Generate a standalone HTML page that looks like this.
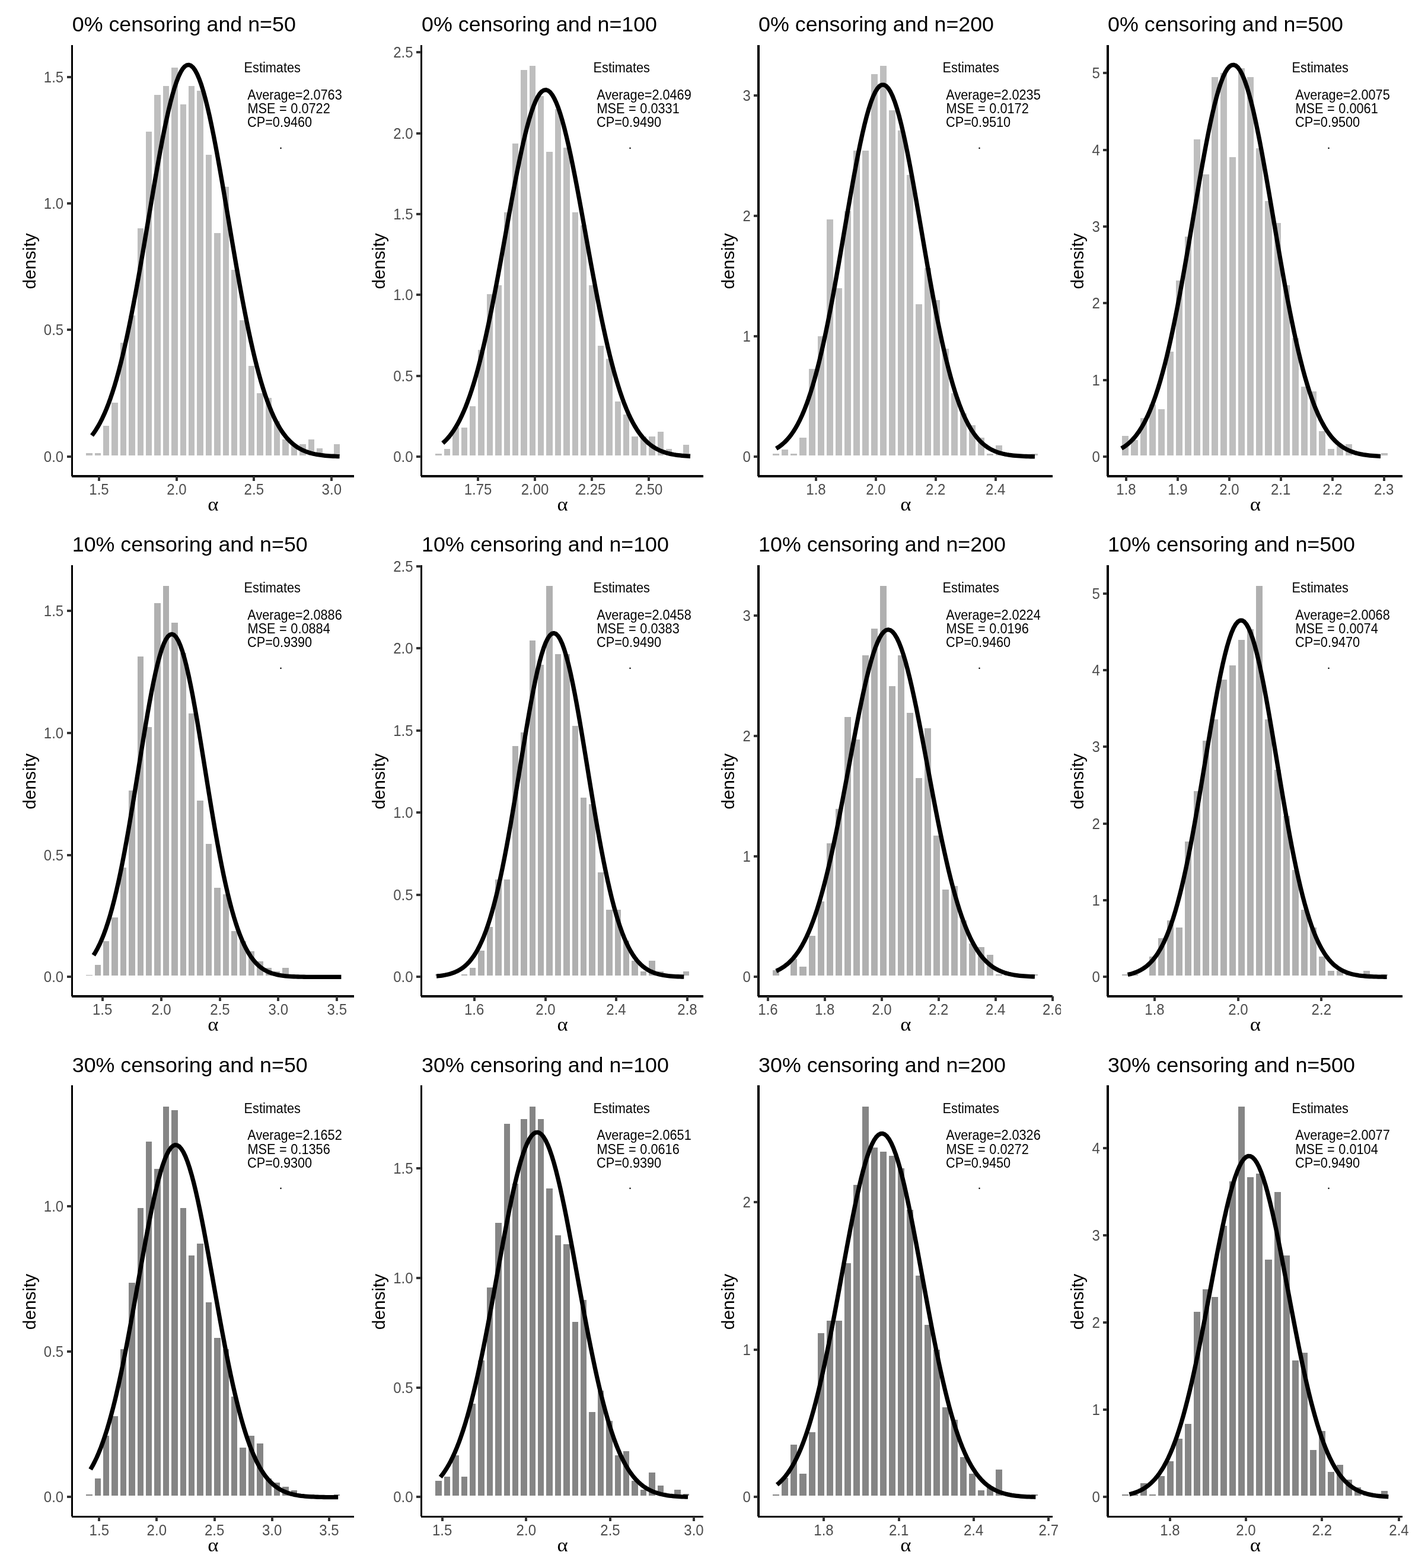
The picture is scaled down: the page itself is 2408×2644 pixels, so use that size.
<!DOCTYPE html>
<html lang="en"><head><meta charset="utf-8"><title>Histograms of estimates</title>
<style>html,body{margin:0;padding:0;background:#fff}svg{display:block}text{font-family:"Liberation Sans",Arial,Helvetica,sans-serif}.t{font-size:35.8px;fill:#000}.k{font-size:24.0px;fill:#4D4D4D}.a{font-size:29.8px;fill:#000}.n,.m{font-size:21.7px;fill:#000}.m{word-spacing:0.6px}.g{font-family:"Liberation Serif","DejaVu Serif",serif;font-size:31.5px;fill:#000}</style></head><body>
<svg width="2408" height="2644" viewBox="0 0 2408 2644">
<rect width="2408" height="2644" fill="#fff"/>
<g>
<text class="t" transform="translate(121.8 52.9) scale(1.0 0.977)">0% censoring and n=50</text>
<path fill="#BEBEBE" shape-rendering="crispEdges" d="M145 764H156V768H145ZM160 764H170V768H160ZM174 718H184V768H174ZM188 679H199V768H188ZM203 578H213V768H203ZM217 532H228V768H217ZM232 385H242V768H232ZM246 222H256V768H246ZM260 160H271V768H260ZM275 145H285V768H275ZM289 114H300V768H289ZM304 176H314V768H304ZM318 145H328V768H318ZM332 153H343V768H332ZM347 261H357V768H347ZM361 393H372V768H361ZM376 315H386V768H376ZM390 455H400V768H390ZM404 540H415V768H404ZM419 617H429V768H419ZM433 663H444V768H433ZM448 671H458V768H448ZM462 710H472V768H462ZM476 741H487V768H476ZM491 749H501V768H491ZM505 749H516V768H505ZM520 741H530V768H520ZM534 756H544V768H534ZM563 749H573V768H563Z"/>
<polyline fill="none" stroke="#000" stroke-width="7.3" stroke-linejoin="round" points="155,734.37 158.48,729.67 161.96,724.48 165.44,718.75 168.92,712.46 172.4,705.58 175.88,698.06 179.36,689.89 182.84,681.03 186.32,671.45 189.8,661.14 193.28,650.06 196.76,638.22 200.24,625.59 203.72,612.18 207.2,597.99 210.68,583.01 214.16,567.28 217.64,550.81 221.12,533.64 224.6,515.8 228.08,497.34 231.56,478.33 235.04,458.82 238.52,438.89 242,418.63 245.48,398.12 248.96,377.46 252.44,356.76 255.92,336.13 259.4,315.69 262.88,295.55 266.36,275.83 269.84,256.67 273.32,238.19 276.8,220.51 280.28,203.76 283.76,188.05 287.24,173.5 290.72,160.21 294.2,148.29 297.68,137.83 301.16,128.91 304.64,121.59 308.12,115.93 311.6,111.99 315.08,109.78 318.56,109.33 322.04,110.65 325.52,113.72 329,118.51 332.48,124.99 335.96,133.11 339.44,142.8 342.92,153.99 346.4,166.6 349.88,180.52 353.36,195.65 356.84,211.89 360.32,229.11 363.8,247.2 367.28,266.04 370.76,285.49 374.24,305.43 377.72,325.73 381.2,346.29 384.68,366.96 388.16,387.66 391.64,408.25 395.12,428.65 398.6,448.76 402.08,468.49 405.56,487.77 409.04,506.51 412.52,524.67 416,542.19 419.48,559.02 422.96,575.13 426.44,590.49 429.92,605.08 433.4,618.89 436.88,631.92 440.36,644.15 443.84,655.62 447.32,666.31 450.8,676.26 454.28,685.48 457.76,694 461.24,701.85 464.72,709.05 468.2,715.64 471.68,721.64 475.16,727.1 478.64,732.05 482.12,736.52 485.6,740.54 489.08,744.15 492.56,747.39 496.04,750.27 499.52,752.83 503,755.11 506.48,757.12 509.96,758.89 513.44,760.45 516.92,761.81 520.4,763 523.88,764.04 527.36,764.94 530.84,765.72 534.32,766.4 537.8,766.98 541.28,767.48 544.76,767.9 548.24,768.26 551.72,768.57 555.2,768.84 558.68,769.06 562.16,769.24 565.64,769.4 569.12,769.53 572.6,769.64"/>
<path fill="#000" shape-rendering="crispEdges" d="M120 76H123V803H120ZM121 801H597V805H121Z"/>
<path fill="#333" shape-rendering="crispEdges" d="M165 803h4v8h-4zM296 803h4v8h-4zM426 803h4v8h-4zM557 803h4v8h-4zM113 768H121v4H113zM113 554H121v4H113zM113 341H121v4H113zM113 128H121v4H113z"/>
<clipPath id="c0"><rect x="61.5" y="802.9" width="549.5" height="60"/></clipPath><g clip-path="url(#c0)">
<text class="k" text-anchor="middle" transform="translate(167 833.9) scale(1.0 1.08)">1.5</text>
<text class="k" text-anchor="middle" transform="translate(298 833.9) scale(1.0 1.08)">2.0</text>
<text class="k" text-anchor="middle" transform="translate(428.3 833.9) scale(1.0 1.08)">2.5</text>
<text class="k" text-anchor="middle" transform="translate(559.3 833.9) scale(1.0 1.08)">3.0</text>
</g>
<text class="k" text-anchor="end" transform="translate(107.2 778.86) scale(1.0 1.08)">0.0</text>
<text class="k" text-anchor="end" transform="translate(107.2 565.46) scale(1.0 1.08)">0.5</text>
<text class="k" text-anchor="end" transform="translate(107.2 352.06) scale(1.0 1.08)">1.0</text>
<text class="k" text-anchor="end" transform="translate(107.2 138.66) scale(1.0 1.08)">1.5</text>
<text class="g" text-anchor="middle" transform="translate(359.4 860.9) scale(1.1 1.0)">α</text>
<text class="a" text-anchor="middle" transform="translate(59.9 440.35) rotate(-90)">density</text>
<text class="n" transform="translate(411.6 122) scale(1.0 1.07)">Estimates</text>
<text class="n" transform="translate(417.3 167.7) scale(1.0 1.07)">Average=2.0763</text>
<text class="m" transform="translate(417.4 191) scale(1.0 1.07)">MSE = 0.0722</text>
<text class="n" transform="translate(417 214) scale(1.0 1.07)">CP=0.9460</text>
<text class="n" transform="translate(470.5 250.6)">.</text>
</g>
<g>
<text class="t" transform="translate(711.1 52.9) scale(1.0 0.977)">0% censoring and n=100</text>
<path fill="#BEBEBE" shape-rendering="crispEdges" d="M734 765H745V768H734ZM749 757H759V768H749ZM763 721H774V768H763ZM778 721H788V768H778ZM792 685H802V768H792ZM806 590H817V768H806ZM821 496H831V768H821ZM835 481H846V768H835ZM850 358H860V768H850ZM864 242H874V768H864ZM878 118H889V768H878ZM893 111H903V768H893ZM907 162H917V768H907ZM921 256H932V768H921ZM936 184H946V768H936ZM950 249H961V768H950ZM965 358H975V768H965ZM979 380H989V768H979ZM993 481H1004V768H993ZM1008 583H1018V768H1008ZM1022 605H1033V768H1022ZM1037 677H1047V768H1037ZM1051 699H1061V768H1051ZM1065 736H1076V768H1065ZM1080 736H1090V768H1080ZM1094 736H1105V768H1094ZM1109 728H1119V768H1109ZM1123 757H1133V768H1123ZM1152 750H1162V768H1152Z"/>
<polyline fill="none" stroke="#000" stroke-width="7.3" stroke-linejoin="round" points="746.7,747.25 750.18,744.04 753.66,740.47 757.13,736.49 760.61,732.09 764.09,727.22 767.57,721.86 771.04,715.97 774.52,709.52 778,702.49 781.48,694.85 784.96,686.56 788.43,677.6 791.91,667.96 795.39,657.61 798.87,646.55 802.34,634.75 805.82,622.22 809.3,608.97 812.78,594.99 816.26,580.3 819.73,564.92 823.21,548.89 826.69,532.24 830.17,515.02 833.65,497.27 837.12,479.06 840.6,460.46 844.08,441.55 847.56,422.4 851.03,403.11 854.51,383.79 857.99,364.52 861.47,345.42 864.95,326.6 868.42,308.17 871.9,290.26 875.38,272.97 878.86,256.42 882.33,240.73 885.81,226.01 889.29,212.36 892.77,199.88 896.25,188.67 899.72,178.81 903.2,170.38 906.68,163.44 910.16,158.05 913.63,154.25 917.11,152.07 920.59,151.52 924.07,152.61 927.55,155.34 931.02,159.68 934.5,165.59 937.98,173.03 941.46,181.95 944.93,192.27 948.41,203.91 951.89,216.79 955.37,230.81 958.85,245.87 962.32,261.85 965.8,278.66 969.28,296.17 972.76,314.27 976.24,332.84 979.71,351.77 983.19,370.94 986.67,390.24 990.15,409.56 993.62,428.81 997.1,447.89 1000.58,466.71 1004.06,485.19 1007.54,503.25 1011.01,520.83 1014.49,537.87 1017.97,554.32 1021.45,570.13 1024.92,585.28 1028.4,599.73 1031.88,613.47 1035.36,626.49 1038.84,638.77 1042.31,650.32 1045.79,661.15 1049.27,671.26 1052.75,680.67 1056.22,689.4 1059.7,697.47 1063.18,704.91 1066.66,711.74 1070.14,718 1073.61,723.7 1077.09,728.9 1080.57,733.61 1084.05,737.87 1087.52,741.71 1091,745.15 1094.48,748.24 1097.96,751 1101.44,753.46 1104.91,755.64 1108.39,757.56 1111.87,759.27 1115.35,760.76 1118.82,762.07 1122.3,763.22 1125.78,764.22 1129.26,765.09 1132.74,765.85 1136.21,766.5 1139.69,767.06 1143.17,767.54 1146.65,767.95 1150.13,768.31 1153.6,768.61 1157.08,768.86 1160.56,769.08 1164.04,769.26"/>
<path fill="#000" shape-rendering="crispEdges" d="M709 76H712V803H709ZM710 801H1186V805H710Z"/>
<path fill="#333" shape-rendering="crispEdges" d="M804 803h4v8h-4zM900 803h4v8h-4zM996 803h4v8h-4zM1092 803h4v8h-4zM702 768H710v4H702zM702 632H710v4H702zM702 495H710v4H702zM702 359H710v4H702zM702 223H710v4H702zM702 86H710v4H702z"/>
<clipPath id="c1"><rect x="650.8" y="802.9" width="549.2" height="60"/></clipPath><g clip-path="url(#c1)">
<text class="k" text-anchor="middle" transform="translate(806 833.9) scale(1.0 1.08)">1.75</text>
<text class="k" text-anchor="middle" transform="translate(902 833.9) scale(1.0 1.08)">2.00</text>
<text class="k" text-anchor="middle" transform="translate(998 833.9) scale(1.0 1.08)">2.25</text>
<text class="k" text-anchor="middle" transform="translate(1094 833.9) scale(1.0 1.08)">2.50</text>
</g>
<text class="k" text-anchor="end" transform="translate(696.5 778.86) scale(1.0 1.08)">0.0</text>
<text class="k" text-anchor="end" transform="translate(696.5 642.56) scale(1.0 1.08)">0.5</text>
<text class="k" text-anchor="end" transform="translate(696.5 506.26) scale(1.0 1.08)">1.0</text>
<text class="k" text-anchor="end" transform="translate(696.5 369.96) scale(1.0 1.08)">1.5</text>
<text class="k" text-anchor="end" transform="translate(696.5 233.66) scale(1.0 1.08)">2.0</text>
<text class="k" text-anchor="end" transform="translate(696.5 97.36) scale(1.0 1.08)">2.5</text>
<text class="g" text-anchor="middle" transform="translate(948.55 860.9) scale(1.1 1.0)">α</text>
<text class="a" text-anchor="middle" transform="translate(648.9 440.35) rotate(-90)">density</text>
<text class="n" transform="translate(1000.6 122) scale(1.0 1.07)">Estimates</text>
<text class="n" transform="translate(1006.3 167.7) scale(1.0 1.07)">Average=2.0469</text>
<text class="m" transform="translate(1006.4 191) scale(1.0 1.07)">MSE = 0.0331</text>
<text class="n" transform="translate(1006 214) scale(1.0 1.07)">CP=0.9490</text>
<text class="n" transform="translate(1059.5 250.6)">.</text>
</g>
<g>
<text class="t" transform="translate(1279.1 52.9) scale(1.0 0.977)">0% censoring and n=200</text>
<path fill="#BEBEBE" shape-rendering="crispEdges" d="M1303 765H1314V768H1303ZM1318 758H1329V768H1318ZM1333 765H1344V768H1333ZM1348 738H1360V768H1348ZM1364 622H1375V768H1364ZM1379 567H1390V768H1379ZM1394 370H1405V768H1394ZM1409 486H1420V768H1409ZM1424 356H1435V768H1424ZM1439 254H1450V768H1439ZM1454 254H1465V768H1454ZM1469 125H1480V768H1469ZM1484 111H1495V768H1484ZM1499 186H1510V768H1499ZM1514 220H1525V768H1514ZM1529 295H1540V768H1529ZM1544 513H1555V768H1544ZM1559 452H1570V768H1559ZM1574 506H1585V768H1574ZM1589 588H1600V768H1589ZM1604 663H1615V768H1604ZM1619 697H1630V768H1619ZM1634 717H1645V768H1634ZM1649 738H1660V768H1649ZM1664 765H1675V768H1664ZM1679 751H1690V768H1679ZM1739 765H1750V768H1739Z"/>
<polyline fill="none" stroke="#000" stroke-width="7.3" stroke-linejoin="round" points="1308.9,756.44 1312.53,754.18 1316.17,751.59 1319.8,748.66 1323.44,745.35 1327.07,741.61 1330.7,737.41 1334.34,732.71 1337.97,727.47 1341.6,721.64 1345.24,715.19 1348.87,708.08 1352.51,700.27 1356.14,691.72 1359.77,682.4 1363.41,672.27 1367.04,661.32 1370.67,649.52 1374.31,636.85 1377.94,623.32 1381.58,608.91 1385.21,593.64 1388.84,577.53 1392.48,560.6 1396.11,542.89 1399.74,524.45 1403.38,505.34 1407.01,485.63 1410.65,465.41 1414.28,444.77 1417.91,423.81 1421.55,402.65 1425.18,381.41 1428.82,360.23 1432.45,339.23 1436.08,318.57 1439.72,298.39 1443.35,278.84 1446.98,260.08 1450.62,242.25 1454.25,225.49 1457.89,209.95 1461.52,195.77 1465.15,183.05 1468.79,171.93 1472.42,162.49 1476.05,154.82 1479.69,148.99 1483.32,145.06 1486.96,143.07 1490.59,143.03 1494.22,144.93 1497.86,148.78 1501.49,154.52 1505.12,162.11 1508.76,171.47 1512.39,182.52 1516.03,195.17 1519.66,209.29 1523.29,224.77 1526.93,241.48 1530.56,259.26 1534.19,277.99 1537.83,297.5 1541.46,317.66 1545.1,338.3 1548.73,359.29 1552.36,380.47 1556,401.71 1559.63,422.87 1563.27,443.84 1566.9,464.5 1570.53,484.74 1574.17,504.47 1577.8,523.61 1581.43,542.08 1585.07,559.82 1588.7,576.79 1592.34,592.94 1595.97,608.25 1599.6,622.7 1603.24,636.27 1606.87,648.97 1610.5,660.81 1614.14,671.8 1617.77,681.97 1621.41,691.32 1625.04,699.91 1628.67,707.75 1632.31,714.89 1635.94,721.37 1639.57,727.22 1643.21,732.49 1646.84,737.21 1650.48,741.43 1654.11,745.19 1657.74,748.52 1661.38,751.47 1665.01,754.07 1668.64,756.35 1672.28,758.34 1675.91,760.08 1679.55,761.58 1683.18,762.89 1686.81,764.02 1690.45,764.98 1694.08,765.81 1697.72,766.52 1701.35,767.12 1704.98,767.63 1708.62,768.06 1712.25,768.43 1715.88,768.73 1719.52,768.98 1723.15,769.2 1726.79,769.37 1730.42,769.52 1734.05,769.64 1737.69,769.74 1741.32,769.82 1744.95,769.89"/>
<path fill="#000" shape-rendering="crispEdges" d="M1277 76H1281V803H1277ZM1278 801H1775V805H1278Z"/>
<path fill="#333" shape-rendering="crispEdges" d="M1374 803h4v8h-4zM1475 803h4v8h-4zM1576 803h4v8h-4zM1677 803h4v8h-4zM1271 768H1278v4H1271zM1271 565H1278v4H1271zM1271 362H1278v4H1271zM1271 159H1278v4H1271z"/>
<clipPath id="c2"><rect x="1218.8" y="802.9" width="570.2" height="60"/></clipPath><g clip-path="url(#c2)">
<text class="k" text-anchor="middle" transform="translate(1376 833.9) scale(1.0 1.08)">1.8</text>
<text class="k" text-anchor="middle" transform="translate(1477 833.9) scale(1.0 1.08)">2.0</text>
<text class="k" text-anchor="middle" transform="translate(1577.7 833.9) scale(1.0 1.08)">2.2</text>
<text class="k" text-anchor="middle" transform="translate(1678.7 833.9) scale(1.0 1.08)">2.4</text>
</g>
<text class="k" text-anchor="end" transform="translate(1265.8 778.86) scale(1.0 1.08)">0</text>
<text class="k" text-anchor="end" transform="translate(1265.8 575.96) scale(1.0 1.08)">1</text>
<text class="k" text-anchor="end" transform="translate(1265.8 373.06) scale(1.0 1.08)">2</text>
<text class="k" text-anchor="end" transform="translate(1265.8 170.16) scale(1.0 1.08)">3</text>
<text class="g" text-anchor="middle" transform="translate(1527.2 860.9) scale(1.1 1.0)">α</text>
<text class="a" text-anchor="middle" transform="translate(1237.9 440.35) rotate(-90)">density</text>
<text class="n" transform="translate(1589.6 122) scale(1.0 1.07)">Estimates</text>
<text class="n" transform="translate(1595.3 167.7) scale(1.0 1.07)">Average=2.0235</text>
<text class="m" transform="translate(1595.4 191) scale(1.0 1.07)">MSE = 0.0172</text>
<text class="n" transform="translate(1595 214) scale(1.0 1.07)">CP=0.9510</text>
<text class="n" transform="translate(1648.5 250.6)">.</text>
</g>
<g>
<text class="t" transform="translate(1868.1 52.9) scale(1.0 0.977)">0% censoring and n=500</text>
<path fill="#BEBEBE" shape-rendering="crispEdges" d="M1892 735H1903V768H1892ZM1907 742H1919V768H1907ZM1923 705H1934V768H1923ZM1938 682H1949V768H1938ZM1953 690H1964V768H1953ZM1968 593H1979V768H1968ZM1983 473H1994V768H1983ZM1998 399H2009V768H1998ZM2013 235H2024V768H2013ZM2028 294H2039V768H2028ZM2043 130H2054V768H2043ZM2058 123H2069V768H2058ZM2073 265H2084V768H2073ZM2088 115H2099V768H2088ZM2103 130H2114V768H2103ZM2118 250H2129V768H2118ZM2133 339H2145V768H2133ZM2149 376H2160V768H2149ZM2164 481H2175V768H2164ZM2179 570H2190V768H2179ZM2194 652H2205V768H2194ZM2209 660H2220V768H2209ZM2224 727H2235V768H2224ZM2239 757H2250V768H2239ZM2254 749H2265V768H2254ZM2269 749H2280V768H2269ZM2284 764H2295V768H2284ZM2329 764H2340V768H2329Z"/>
<polyline fill="none" stroke="#000" stroke-width="7.3" stroke-linejoin="round" points="1891.1,756.18 1894.74,753.96 1898.38,751.43 1902.02,748.58 1905.66,745.36 1909.31,741.75 1912.95,737.7 1916.59,733.18 1920.23,728.16 1923.87,722.59 1927.51,716.43 1931.15,709.66 1934.79,702.22 1938.43,694.09 1942.08,685.23 1945.72,675.62 1949.36,665.21 1953,654 1956.64,641.96 1960.28,629.08 1963.92,615.35 1967.56,600.77 1971.2,585.35 1974.85,569.11 1978.49,552.07 1982.13,534.27 1985.77,515.74 1989.41,496.55 1993.05,476.77 1996.69,456.45 2000.33,435.69 2003.97,414.59 2007.62,393.23 2011.26,371.75 2014.9,350.25 2018.54,328.87 2022.18,307.73 2025.82,286.97 2029.46,266.73 2033.1,247.15 2036.74,228.37 2040.39,210.54 2044.03,193.77 2047.67,178.22 2051.31,163.99 2054.95,151.2 2058.59,139.96 2062.23,130.37 2065.87,122.49 2069.51,116.41 2073.16,112.16 2076.8,109.79 2080.44,109.32 2084.08,110.75 2087.72,114.07 2091.36,119.25 2095,126.24 2098.64,135 2102.28,145.43 2105.93,157.46 2109.57,170.99 2113.21,185.9 2116.85,202.08 2120.49,219.41 2124.13,237.73 2127.77,256.93 2131.41,276.86 2135.05,297.38 2138.7,318.35 2142.34,339.63 2145.98,361.09 2149.62,382.59 2153.26,404.02 2156.9,425.27 2160.54,446.21 2164.18,466.75 2167.82,486.81 2171.47,506.31 2175.11,525.17 2178.75,543.34 2182.39,560.76 2186.03,577.4 2189.67,593.23 2193.31,608.22 2196.95,622.38 2200.59,635.68 2204.24,648.13 2207.88,659.76 2211.52,670.56 2215.16,680.56 2218.8,689.79 2222.44,698.28 2226.08,706.05 2229.72,713.15 2233.36,719.61 2237.01,725.47 2240.65,730.76 2244.29,735.52 2247.93,739.8 2251.57,743.62 2255.21,747.03 2258.85,750.06 2262.49,752.74 2266.13,755.11 2269.78,757.2 2273.42,759.02 2277.06,760.62 2280.7,762.01 2284.34,763.22 2287.98,764.27 2291.62,765.17 2295.26,765.95 2298.9,766.61 2302.55,767.18 2306.19,767.67 2309.83,768.08 2313.47,768.43 2317.11,768.72 2320.75,768.97 2324.39,769.18 2328.03,769.35"/>
<path fill="#000" shape-rendering="crispEdges" d="M1866 76H1870V803H1866ZM1867 801H2365V805H1867Z"/>
<path fill="#333" shape-rendering="crispEdges" d="M1897 803h4v8h-4zM1984 803h4v8h-4zM2071 803h4v8h-4zM2158 803h4v8h-4zM2245 803h4v8h-4zM2332 803h4v8h-4zM1860 768H1867v4H1860zM1860 639H1867v4H1860zM1860 509H1867v4H1860zM1860 380H1867v4H1860zM1860 251H1867v4H1860zM1860 121H1867v4H1860z"/>
<clipPath id="c3"><rect x="1807.8" y="802.9" width="571.2" height="60"/></clipPath><g clip-path="url(#c3)">
<text class="k" text-anchor="middle" transform="translate(1899 833.9) scale(1.0 1.08)">1.8</text>
<text class="k" text-anchor="middle" transform="translate(1986 833.9) scale(1.0 1.08)">1.9</text>
<text class="k" text-anchor="middle" transform="translate(2073 833.9) scale(1.0 1.08)">2.0</text>
<text class="k" text-anchor="middle" transform="translate(2159.7 833.9) scale(1.0 1.08)">2.1</text>
<text class="k" text-anchor="middle" transform="translate(2247 833.9) scale(1.0 1.08)">2.2</text>
<text class="k" text-anchor="middle" transform="translate(2333.7 833.9) scale(1.0 1.08)">2.3</text>
</g>
<text class="k" text-anchor="end" transform="translate(1854.8 778.86) scale(1.0 1.08)">0</text>
<text class="k" text-anchor="end" transform="translate(1854.8 649.56) scale(1.0 1.08)">1</text>
<text class="k" text-anchor="end" transform="translate(1854.8 520.26) scale(1.0 1.08)">2</text>
<text class="k" text-anchor="end" transform="translate(1854.8 390.96) scale(1.0 1.08)">3</text>
<text class="k" text-anchor="end" transform="translate(1854.8 261.66) scale(1.0 1.08)">4</text>
<text class="k" text-anchor="end" transform="translate(1854.8 132.36) scale(1.0 1.08)">5</text>
<text class="g" text-anchor="middle" transform="translate(2116.7 860.9) scale(1.1 1.0)">α</text>
<text class="a" text-anchor="middle" transform="translate(1826.9 440.35) rotate(-90)">density</text>
<text class="n" transform="translate(2178.6 122) scale(1.0 1.07)">Estimates</text>
<text class="n" transform="translate(2184.3 167.7) scale(1.0 1.07)">Average=2.0075</text>
<text class="m" transform="translate(2184.4 191) scale(1.0 1.07)">MSE = 0.0061</text>
<text class="n" transform="translate(2184 214) scale(1.0 1.07)">CP=0.9500</text>
<text class="n" transform="translate(2237.5 250.6)">.</text>
</g>
<g>
<text class="t" transform="translate(121.8 930.2) scale(1.0 0.977)">10% censoring and n=50</text>
<path fill="#B0B0B0" shape-rendering="crispEdges" d="M145 1644H156V1645H145ZM160 1627H170V1645H160ZM174 1587H184V1645H174ZM188 1547H199V1645H188ZM203 1463H213V1645H203ZM217 1333H228V1645H217ZM232 1107H242V1645H232ZM246 1226H256V1645H246ZM260 1017H271V1645H260ZM275 988H285V1645H275ZM289 1050H300V1645H289ZM304 1101H314V1645H304ZM318 1203H328V1645H318ZM332 1350H343V1645H332ZM347 1423H357V1645H347ZM361 1497H372V1645H361ZM376 1508H386V1645H376ZM390 1570H400V1645H390ZM404 1587H415V1645H404ZM419 1604H429V1645H419ZM433 1621H444V1645H433ZM448 1632H458V1645H448ZM462 1638H472V1645H462ZM476 1632H487V1645H476ZM505 1644H516V1645H505ZM534 1644H544V1645H534ZM548 1644H559V1645H548ZM563 1644H573V1645H563Z"/>
<polyline fill="none" stroke="#000" stroke-width="7.3" stroke-linejoin="round" points="157.8,1610.76 161.28,1605.09 164.76,1598.73 168.24,1591.64 171.72,1583.75 175.2,1575.03 178.68,1565.44 182.16,1554.93 185.64,1543.47 189.12,1531.04 192.6,1517.62 196.08,1503.22 199.56,1487.83 203.04,1471.47 206.52,1454.19 210,1436.02 213.48,1417.03 216.96,1397.3 220.44,1376.92 223.92,1356 227.4,1334.67 230.88,1313.07 234.36,1291.34 237.84,1269.66 241.32,1248.2 244.8,1227.13 248.28,1206.65 251.76,1186.94 255.24,1168.2 258.72,1150.61 262.2,1134.35 265.68,1119.59 269.16,1106.48 272.64,1095.18 276.12,1085.8 279.6,1078.46 283.08,1073.23 286.56,1070.18 290.04,1069.33 293.52,1070.71 297,1074.28 300.48,1080.02 303.96,1087.86 307.44,1097.71 310.92,1109.45 314.4,1122.96 317.88,1138.1 321.36,1154.69 324.84,1172.57 328.32,1191.56 331.8,1211.47 335.28,1232.11 338.76,1253.28 342.24,1274.82 345.72,1296.53 349.2,1318.24 352.68,1339.79 356.16,1361.03 359.64,1381.83 363.12,1402.07 366.6,1421.63 370.08,1440.43 373.56,1458.39 377.04,1475.46 380.52,1491.59 384,1506.74 387.48,1520.91 390.96,1534.09 394.44,1546.29 397.92,1557.52 401.4,1567.81 404.88,1577.19 408.36,1585.71 411.84,1593.4 415.32,1600.31 418.8,1606.5 422.28,1612.02 425.76,1616.9 429.24,1621.22 432.72,1625.01 436.2,1628.33 439.68,1631.22 443.16,1633.73 446.64,1635.89 450.12,1637.75 453.6,1639.34 457.08,1640.7 460.56,1641.85 464.04,1642.82 467.52,1643.64 471,1644.33 474.48,1644.9 477.96,1645.38 481.44,1645.77 484.92,1646.1 488.4,1646.36 491.88,1646.58 495.36,1646.76 498.84,1646.9 502.32,1647.02 505.8,1647.11 509.28,1647.19 512.76,1647.24 516.24,1647.29 519.72,1647.33 523.2,1647.36 526.68,1647.38 530.16,1647.4 533.64,1647.41 537.12,1647.42 540.6,1647.43 544.08,1647.44 547.56,1647.44 551.04,1647.45 554.52,1647.45 558,1647.45 561.48,1647.45 564.96,1647.46 568.44,1647.46 571.92,1647.46 575.4,1647.46"/>
<path fill="#000" shape-rendering="crispEdges" d="M120 953H123V1680H120ZM121 1678H597V1682H121Z"/>
<path fill="#333" shape-rendering="crispEdges" d="M171 1680h4v8h-4zM270 1680h4v8h-4zM369 1680h4v8h-4zM467 1680h4v8h-4zM566 1680h4v8h-4zM113 1645H121v4H113zM113 1440H121v4H113zM113 1234H121v4H113zM113 1028H121v4H113z"/>
<clipPath id="c4"><rect x="61.5" y="1680.2" width="549.5" height="60"/></clipPath><g clip-path="url(#c4)">
<text class="k" text-anchor="middle" transform="translate(172.7 1711.2) scale(1.0 1.08)">1.5</text>
<text class="k" text-anchor="middle" transform="translate(272 1711.2) scale(1.0 1.08)">2.0</text>
<text class="k" text-anchor="middle" transform="translate(371 1711.2) scale(1.0 1.08)">2.5</text>
<text class="k" text-anchor="middle" transform="translate(469.3 1711.2) scale(1.0 1.08)">3.0</text>
<text class="k" text-anchor="middle" transform="translate(568.3 1711.2) scale(1.0 1.08)">3.5</text>
</g>
<text class="k" text-anchor="end" transform="translate(107.2 1656.16) scale(1.0 1.08)">0.0</text>
<text class="k" text-anchor="end" transform="translate(107.2 1450.51) scale(1.0 1.08)">0.5</text>
<text class="k" text-anchor="end" transform="translate(107.2 1244.86) scale(1.0 1.08)">1.0</text>
<text class="k" text-anchor="end" transform="translate(107.2 1039.21) scale(1.0 1.08)">1.5</text>
<text class="g" text-anchor="middle" transform="translate(359.4 1738.2) scale(1.1 1.0)">α</text>
<text class="a" text-anchor="middle" transform="translate(59.9 1317.65) rotate(-90)">density</text>
<text class="n" transform="translate(411.6 999.3) scale(1.0 1.07)">Estimates</text>
<text class="n" transform="translate(417.3 1045) scale(1.0 1.07)">Average=2.0886</text>
<text class="m" transform="translate(417.4 1068.3) scale(1.0 1.07)">MSE = 0.0884</text>
<text class="n" transform="translate(417 1091.3) scale(1.0 1.07)">CP=0.9390</text>
<text class="n" transform="translate(470.5 1127.9)">.</text>
</g>
<g>
<text class="t" transform="translate(711.1 930.2) scale(1.0 0.977)">10% censoring and n=100</text>
<path fill="#B0B0B0" shape-rendering="crispEdges" d="M734 1643H745V1645H734ZM778 1643H788V1645H778ZM792 1632H802V1645H792ZM806 1603H817V1645H806ZM821 1563H831V1645H821ZM835 1483H846V1645H835ZM850 1483H860V1645H850ZM864 1258H874V1645H864ZM878 1235H889V1645H878ZM893 1080H903V1645H893ZM907 1121H917V1645H907ZM921 988H932V1645H921ZM936 1103H946V1645H936ZM950 1103H961V1645H950ZM965 1224H975V1645H965ZM979 1345H989V1645H979ZM993 1356H1004V1645H993ZM1008 1471H1018V1645H1008ZM1022 1534H1033V1645H1022ZM1037 1534H1047V1645H1037ZM1051 1586H1061V1645H1051ZM1065 1620H1076V1645H1065ZM1080 1638H1090V1645H1080ZM1094 1620H1105V1645H1094ZM1109 1638H1119V1645H1109ZM1123 1643H1133V1645H1123ZM1137 1643H1148V1645H1137ZM1152 1638H1162V1645H1152Z"/>
<polyline fill="none" stroke="#000" stroke-width="7.3" stroke-linejoin="round" points="736,1646.03 739.48,1645.7 742.96,1645.3 746.43,1644.82 749.91,1644.24 753.39,1643.54 756.87,1642.72 760.34,1641.74 763.82,1640.59 767.3,1639.24 770.78,1637.66 774.26,1635.82 777.73,1633.68 781.21,1631.21 784.69,1628.36 788.17,1625.11 791.64,1621.39 795.12,1617.17 798.6,1612.4 802.08,1607.03 805.56,1601.01 809.03,1594.28 812.51,1586.82 815.99,1578.55 819.47,1569.46 822.95,1559.49 826.42,1548.61 829.9,1536.81 833.38,1524.05 836.86,1510.33 840.33,1495.65 843.81,1480.02 847.29,1463.48 850.77,1446.04 854.25,1427.77 857.72,1408.74 861.2,1389.02 864.68,1368.7 868.16,1347.91 871.63,1326.76 875.11,1305.39 878.59,1283.95 882.07,1262.6 885.55,1241.51 889.02,1220.85 892.5,1200.81 895.98,1181.56 899.46,1163.28 902.93,1146.15 906.41,1130.34 909.89,1116.02 913.37,1103.32 916.85,1092.39 920.32,1083.34 923.8,1076.27 927.28,1071.26 930.76,1068.36 934.23,1067.6 937.71,1069 941.19,1072.54 944.67,1078.18 948.15,1085.85 951.62,1095.48 955.1,1106.95 958.58,1120.15 962.06,1134.94 965.54,1151.16 969.01,1168.65 972.49,1187.24 975.97,1206.75 979.45,1227 982.92,1247.81 986.4,1268.99 989.88,1290.39 993.36,1311.82 996.84,1333.14 1000.31,1354.2 1003.79,1374.86 1007.27,1395.01 1010.75,1414.53 1014.22,1433.34 1017.7,1451.37 1021.18,1468.54 1024.66,1484.82 1028.14,1500.16 1031.61,1514.55 1035.09,1527.98 1038.57,1540.45 1042.05,1551.98 1045.52,1562.58 1049,1572.28 1052.48,1581.12 1055.96,1589.14 1059.44,1596.38 1062.91,1602.89 1066.39,1608.71 1069.87,1613.9 1073.35,1618.5 1076.82,1622.56 1080.3,1626.13 1083.78,1629.26 1087.26,1631.99 1090.74,1634.35 1094.21,1636.4 1097.69,1638.16 1101.17,1639.67 1104.65,1640.96 1108.12,1642.05 1111.6,1642.98 1115.08,1643.76 1118.56,1644.42 1122.04,1644.97 1125.51,1645.43 1128.99,1645.81 1132.47,1646.12 1135.95,1646.38 1139.43,1646.59 1142.9,1646.76 1146.38,1646.9 1149.86,1647.02 1153.34,1647.11"/>
<path fill="#000" shape-rendering="crispEdges" d="M709 953H712V1680H709ZM710 1678H1186V1682H710Z"/>
<path fill="#333" shape-rendering="crispEdges" d="M798 1680h4v8h-4zM918 1680h4v8h-4zM1037 1680h4v8h-4zM1157 1680h4v8h-4zM702 1645H710v4H702zM702 1507H710v4H702zM702 1368H710v4H702zM702 1230H710v4H702zM702 1091H710v4H702zM702 953H710v4H702z"/>
<clipPath id="c5"><rect x="650.8" y="1680.2" width="549.2" height="60"/></clipPath><g clip-path="url(#c5)">
<text class="k" text-anchor="middle" transform="translate(799.7 1711.2) scale(1.0 1.08)">1.6</text>
<text class="k" text-anchor="middle" transform="translate(920 1711.2) scale(1.0 1.08)">2.0</text>
<text class="k" text-anchor="middle" transform="translate(1039 1711.2) scale(1.0 1.08)">2.4</text>
<text class="k" text-anchor="middle" transform="translate(1159 1711.2) scale(1.0 1.08)">2.8</text>
</g>
<text class="k" text-anchor="end" transform="translate(696.5 1656.16) scale(1.0 1.08)">0.0</text>
<text class="k" text-anchor="end" transform="translate(696.5 1517.71) scale(1.0 1.08)">0.5</text>
<text class="k" text-anchor="end" transform="translate(696.5 1379.26) scale(1.0 1.08)">1.0</text>
<text class="k" text-anchor="end" transform="translate(696.5 1240.81) scale(1.0 1.08)">1.5</text>
<text class="k" text-anchor="end" transform="translate(696.5 1102.36) scale(1.0 1.08)">2.0</text>
<text class="k" text-anchor="end" transform="translate(696.5 963.91) scale(1.0 1.08)">2.5</text>
<text class="g" text-anchor="middle" transform="translate(948.55 1738.2) scale(1.1 1.0)">α</text>
<text class="a" text-anchor="middle" transform="translate(648.9 1317.65) rotate(-90)">density</text>
<text class="n" transform="translate(1000.6 999.3) scale(1.0 1.07)">Estimates</text>
<text class="n" transform="translate(1006.3 1045) scale(1.0 1.07)">Average=2.0458</text>
<text class="m" transform="translate(1006.4 1068.3) scale(1.0 1.07)">MSE = 0.0383</text>
<text class="n" transform="translate(1006 1091.3) scale(1.0 1.07)">CP=0.9490</text>
<text class="n" transform="translate(1059.5 1127.9)">.</text>
</g>
<g>
<text class="t" transform="translate(1279.1 930.2) scale(1.0 0.977)">10% censoring and n=200</text>
<path fill="#B0B0B0" shape-rendering="crispEdges" d="M1303 1636H1314V1645H1303ZM1333 1617H1344V1645H1333ZM1348 1630H1360V1645H1348ZM1364 1578H1375V1645H1364ZM1379 1520H1390V1645H1379ZM1394 1422H1405V1645H1394ZM1409 1364H1420V1645H1409ZM1424 1209H1435V1645H1424ZM1439 1247H1450V1645H1439ZM1454 1105H1465V1645H1454ZM1469 1060H1480V1645H1469ZM1484 988H1495V1645H1484ZM1499 1157H1510V1645H1499ZM1514 1105H1525V1645H1514ZM1529 1202H1540V1645H1529ZM1544 1312H1555V1645H1544ZM1559 1228H1570V1645H1559ZM1574 1409H1585V1645H1574ZM1589 1500H1600V1645H1589ZM1604 1494H1615V1645H1604ZM1619 1552H1630V1645H1619ZM1634 1591H1645V1645H1634ZM1649 1597H1660V1645H1649ZM1664 1610H1675V1645H1664ZM1679 1643H1690V1645H1679ZM1694 1643H1705V1645H1694ZM1709 1643H1720V1645H1709ZM1724 1643H1735V1645H1724ZM1739 1643H1750V1645H1739Z"/>
<polyline fill="none" stroke="#000" stroke-width="7.3" stroke-linejoin="round" points="1308.9,1637.33 1312.53,1635.64 1316.17,1633.7 1319.8,1631.49 1323.44,1628.99 1327.07,1626.16 1330.7,1622.97 1334.34,1619.38 1337.97,1615.37 1341.6,1610.89 1345.24,1605.92 1348.87,1600.41 1352.51,1594.32 1356.14,1587.63 1359.77,1580.3 1363.41,1572.3 1367.04,1563.59 1370.67,1554.16 1374.31,1543.98 1377.94,1533.04 1381.58,1521.31 1385.21,1508.8 1388.84,1495.51 1392.48,1481.44 1396.11,1466.61 1399.74,1451.06 1403.38,1434.8 1407.01,1417.89 1410.65,1400.37 1414.28,1382.32 1417.91,1363.8 1421.55,1344.9 1425.18,1325.71 1428.82,1306.32 1432.45,1286.86 1436.08,1267.43 1439.72,1248.15 1443.35,1229.15 1446.98,1210.56 1450.62,1192.52 1454.25,1175.15 1457.89,1158.59 1461.52,1142.97 1465.15,1128.41 1468.79,1115.03 1472.42,1102.95 1476.05,1092.26 1479.69,1083.06 1483.32,1075.43 1486.96,1069.44 1490.59,1065.13 1494.22,1062.56 1497.86,1061.73 1501.49,1062.67 1505.12,1065.35 1508.76,1069.76 1512.39,1075.85 1516.03,1083.58 1519.66,1092.88 1523.29,1103.65 1526.93,1115.82 1530.56,1129.27 1534.19,1143.9 1537.83,1159.58 1541.46,1176.2 1545.1,1193.61 1548.73,1211.69 1552.36,1230.31 1556,1249.33 1559.63,1268.62 1563.27,1288.06 1566.9,1307.52 1570.53,1326.89 1574.17,1346.07 1577.8,1364.95 1581.43,1383.44 1585.07,1401.46 1588.7,1418.94 1592.34,1435.82 1595.97,1452.03 1599.6,1467.55 1603.24,1482.33 1606.87,1496.35 1610.5,1509.59 1614.14,1522.05 1617.77,1533.73 1621.41,1544.63 1625.04,1554.77 1628.67,1564.15 1632.31,1572.81 1635.94,1580.77 1639.57,1588.06 1643.21,1594.71 1646.84,1600.76 1650.48,1606.24 1654.11,1611.18 1657.74,1615.63 1661.38,1619.62 1665.01,1623.18 1668.64,1626.35 1672.28,1629.16 1675.91,1631.64 1679.55,1633.83 1683.18,1635.75 1686.81,1637.43 1690.45,1638.89 1694.08,1640.16 1697.72,1641.27 1701.35,1642.22 1704.98,1643.04 1708.62,1643.74 1712.25,1644.34 1715.88,1644.85 1719.52,1645.28 1723.15,1645.65 1726.79,1645.96 1730.42,1646.22 1734.05,1646.44 1737.69,1646.62 1741.32,1646.77 1744.95,1646.9"/>
<path fill="#000" shape-rendering="crispEdges" d="M1277 953H1281V1680H1277ZM1278 1678H1775V1682H1278Z"/>
<path fill="#333" shape-rendering="crispEdges" d="M1293 1680h4v8h-4zM1389 1680h4v8h-4zM1485 1680h4v8h-4zM1581 1680h4v8h-4zM1677 1680h4v8h-4zM1773 1680h4v8h-4zM1271 1645H1278v4H1271zM1271 1442H1278v4H1271zM1271 1239H1278v4H1271zM1271 1036H1278v4H1271z"/>
<clipPath id="c6"><rect x="1218.8" y="1680.2" width="570.2" height="60"/></clipPath><g clip-path="url(#c6)">
<text class="k" text-anchor="middle" transform="translate(1295 1711.2) scale(1.0 1.08)">1.6</text>
<text class="k" text-anchor="middle" transform="translate(1390.7 1711.2) scale(1.0 1.08)">1.8</text>
<text class="k" text-anchor="middle" transform="translate(1487 1711.2) scale(1.0 1.08)">2.0</text>
<text class="k" text-anchor="middle" transform="translate(1582.7 1711.2) scale(1.0 1.08)">2.2</text>
<text class="k" text-anchor="middle" transform="translate(1678.7 1711.2) scale(1.0 1.08)">2.4</text>
<text class="k" text-anchor="middle" transform="translate(1774.7 1711.2) scale(1.0 1.08)">2.6</text>
</g>
<text class="k" text-anchor="end" transform="translate(1265.8 1656.16) scale(1.0 1.08)">0</text>
<text class="k" text-anchor="end" transform="translate(1265.8 1453.26) scale(1.0 1.08)">1</text>
<text class="k" text-anchor="end" transform="translate(1265.8 1250.36) scale(1.0 1.08)">2</text>
<text class="k" text-anchor="end" transform="translate(1265.8 1047.46) scale(1.0 1.08)">3</text>
<text class="g" text-anchor="middle" transform="translate(1527.2 1738.2) scale(1.1 1.0)">α</text>
<text class="a" text-anchor="middle" transform="translate(1237.9 1317.65) rotate(-90)">density</text>
<text class="n" transform="translate(1589.6 999.3) scale(1.0 1.07)">Estimates</text>
<text class="n" transform="translate(1595.3 1045) scale(1.0 1.07)">Average=2.0224</text>
<text class="m" transform="translate(1595.4 1068.3) scale(1.0 1.07)">MSE = 0.0196</text>
<text class="n" transform="translate(1595 1091.3) scale(1.0 1.07)">CP=0.9460</text>
<text class="n" transform="translate(1648.5 1127.9)">.</text>
</g>
<g>
<text class="t" transform="translate(1868.1 930.2) scale(1.0 0.977)">10% censoring and n=500</text>
<path fill="#B0B0B0" shape-rendering="crispEdges" d="M1892 1643H1903V1645H1892ZM1907 1643H1919V1645H1907ZM1938 1613H1949V1645H1938ZM1953 1582H1964V1645H1953ZM1968 1552H1979V1645H1968ZM1983 1564H1994V1645H1983ZM1998 1419H2009V1645H1998ZM2013 1334H2024V1645H2013ZM2028 1249H2039V1645H2028ZM2043 1213H2054V1645H2043ZM2058 1146H2069V1645H2058ZM2073 1122H2084V1645H2073ZM2088 1079H2099V1645H2088ZM2103 1061H2114V1645H2103ZM2118 988H2129V1645H2118ZM2133 1213H2145V1645H2133ZM2149 1298H2160V1645H2149ZM2164 1376H2175V1645H2164ZM2179 1467H2190V1645H2179ZM2194 1534H2205V1645H2194ZM2209 1564H2220V1645H2209ZM2224 1613H2235V1645H2224ZM2239 1637H2250V1645H2239ZM2254 1637H2265V1645H2254ZM2269 1643H2280V1645H2269ZM2284 1643H2295V1645H2284ZM2299 1637H2310V1645H2299ZM2329 1643H2340V1645H2329Z"/>
<polyline fill="none" stroke="#000" stroke-width="7.3" stroke-linejoin="round" points="1901.7,1643.48 1905.34,1642.65 1908.98,1641.67 1912.62,1640.52 1916.26,1639.16 1919.91,1637.57 1923.55,1635.73 1927.19,1633.58 1930.83,1631.11 1934.47,1628.27 1938.11,1625.02 1941.75,1621.31 1945.39,1617.09 1949.03,1612.33 1952.68,1606.97 1956.32,1600.95 1959.96,1594.24 1963.6,1586.79 1967.24,1578.54 1970.88,1569.45 1974.52,1559.49 1978.16,1548.61 1981.8,1536.8 1985.45,1524.02 1989.09,1510.27 1992.73,1495.54 1996.37,1479.84 2000.01,1463.19 2003.65,1445.63 2007.29,1427.2 2010.93,1407.95 2014.57,1387.98 2018.22,1367.36 2021.86,1346.2 2025.5,1324.62 2029.14,1302.76 2032.78,1280.75 2036.42,1258.76 2040.06,1236.95 2043.7,1215.49 2047.34,1194.56 2050.99,1174.35 2054.63,1155.03 2058.27,1136.79 2061.91,1119.8 2065.55,1104.23 2069.19,1090.24 2072.83,1077.96 2076.47,1067.53 2080.11,1059.06 2083.76,1052.63 2087.4,1048.33 2091.04,1046.19 2094.68,1046.23 2098.32,1048.46 2101.96,1052.86 2105.6,1059.37 2109.24,1067.93 2112.88,1078.44 2116.53,1090.79 2120.17,1104.85 2123.81,1120.48 2127.45,1137.53 2131.09,1155.82 2134.73,1175.18 2138.37,1195.42 2142.01,1216.37 2145.65,1237.85 2149.3,1259.67 2152.94,1281.67 2156.58,1303.67 2160.22,1325.53 2163.86,1347.09 2167.5,1368.23 2171.14,1388.82 2174.78,1408.77 2178.42,1427.98 2182.07,1446.38 2185.71,1463.91 2189.35,1480.51 2192.99,1496.17 2196.63,1510.86 2200.27,1524.57 2203.91,1537.31 2207.55,1549.08 2211.19,1559.92 2214.84,1569.85 2218.48,1578.9 2222.12,1587.11 2225.76,1594.54 2229.4,1601.22 2233.04,1607.2 2236.68,1612.54 2240.32,1617.28 2243.96,1621.47 2247.61,1625.16 2251.25,1628.4 2254.89,1631.22 2258.53,1633.68 2262.17,1635.81 2265.81,1637.64 2269.45,1639.22 2273.09,1640.57 2276.73,1641.72 2280.38,1642.69 2284.02,1643.51 2287.66,1644.21 2291.3,1644.79 2294.94,1645.27 2298.58,1645.68 2302.22,1646.01 2305.86,1646.29 2309.5,1646.51 2313.15,1646.7 2316.79,1646.85 2320.43,1646.97 2324.07,1647.07 2327.71,1647.15 2331.35,1647.22 2334.99,1647.27 2338.63,1647.31"/>
<path fill="#000" shape-rendering="crispEdges" d="M1866 953H1870V1680H1866ZM1867 1678H2365V1682H1867Z"/>
<path fill="#333" shape-rendering="crispEdges" d="M1945 1680h4v8h-4zM2086 1680h4v8h-4zM2226 1680h4v8h-4zM1860 1645H1867v4H1860zM1860 1516H1867v4H1860zM1860 1387H1867v4H1860zM1860 1257H1867v4H1860zM1860 1128H1867v4H1860zM1860 999H1867v4H1860z"/>
<clipPath id="c7"><rect x="1807.8" y="1680.2" width="571.2" height="60"/></clipPath><g clip-path="url(#c7)">
<text class="k" text-anchor="middle" transform="translate(1947 1711.2) scale(1.0 1.08)">1.8</text>
<text class="k" text-anchor="middle" transform="translate(2088 1711.2) scale(1.0 1.08)">2.0</text>
<text class="k" text-anchor="middle" transform="translate(2228.3 1711.2) scale(1.0 1.08)">2.2</text>
</g>
<text class="k" text-anchor="end" transform="translate(1854.8 1656.16) scale(1.0 1.08)">0</text>
<text class="k" text-anchor="end" transform="translate(1854.8 1526.86) scale(1.0 1.08)">1</text>
<text class="k" text-anchor="end" transform="translate(1854.8 1397.56) scale(1.0 1.08)">2</text>
<text class="k" text-anchor="end" transform="translate(1854.8 1268.26) scale(1.0 1.08)">3</text>
<text class="k" text-anchor="end" transform="translate(1854.8 1138.96) scale(1.0 1.08)">4</text>
<text class="k" text-anchor="end" transform="translate(1854.8 1009.66) scale(1.0 1.08)">5</text>
<text class="g" text-anchor="middle" transform="translate(2116.7 1738.2) scale(1.1 1.0)">α</text>
<text class="a" text-anchor="middle" transform="translate(1826.9 1317.65) rotate(-90)">density</text>
<text class="n" transform="translate(2178.6 999.3) scale(1.0 1.07)">Estimates</text>
<text class="n" transform="translate(2184.3 1045) scale(1.0 1.07)">Average=2.0068</text>
<text class="m" transform="translate(2184.4 1068.3) scale(1.0 1.07)">MSE = 0.0074</text>
<text class="n" transform="translate(2184 1091.3) scale(1.0 1.07)">CP=0.9470</text>
<text class="n" transform="translate(2237.5 1127.9)">.</text>
</g>
<g>
<text class="t" transform="translate(121.8 1807.5) scale(1.0 0.977)">30% censoring and n=50</text>
<path fill="#858585" shape-rendering="crispEdges" d="M145 2520H156V2522H145ZM160 2493H170V2522H160ZM174 2421H184V2522H174ZM188 2388H199V2522H188ZM203 2275H213V2522H203ZM217 2163H228V2522H217ZM232 2037H242V2522H232ZM246 1925H256V2522H246ZM260 1971H271V2522H260ZM275 1866H285V2522H275ZM289 1872H300V2522H289ZM304 2037H314V2522H304ZM318 2117H328V2522H318ZM332 2097H343V2522H332ZM347 2196H357V2522H347ZM361 2256H372V2522H361ZM376 2275H386V2522H376ZM390 2355H400V2522H390ZM404 2441H415V2522H404ZM419 2421H429V2522H419ZM433 2434H444V2522H433ZM448 2493H458V2522H448ZM462 2500H472V2522H462ZM476 2507H487V2522H476ZM491 2513H501V2522H491ZM505 2520H516V2522H505ZM520 2520H530V2522H520ZM563 2520H573V2522H563Z"/>
<polyline fill="none" stroke="#000" stroke-width="7.3" stroke-linejoin="round" points="152.6,2477.75 156.08,2471.69 159.56,2465.02 163.04,2457.71 166.52,2449.72 170,2441.04 173.48,2431.64 176.96,2421.48 180.44,2410.55 183.92,2398.85 187.4,2386.35 190.88,2373.07 194.36,2359.01 197.84,2344.19 201.32,2328.62 204.8,2312.34 208.28,2295.4 211.76,2277.84 215.24,2259.72 218.72,2241.13 222.2,2222.12 225.68,2202.81 229.16,2183.28 232.64,2163.64 236.12,2144.01 239.6,2124.5 243.08,2105.24 246.56,2086.36 250.04,2067.99 253.52,2050.27 257,2033.33 260.48,2017.29 263.96,2002.28 267.44,1988.43 270.92,1975.85 274.4,1964.65 277.88,1954.91 281.36,1946.72 284.84,1940.16 288.32,1935.28 291.8,1932.13 295.28,1930.73 298.76,1931.1 302.24,1933.23 305.72,1937.1 309.2,1942.68 312.68,1949.92 316.16,1958.76 319.64,1969.12 323.12,1980.91 326.6,1994.03 330.08,2008.37 333.56,2023.82 337.04,2040.25 340.52,2057.53 344,2075.53 347.48,2094.13 350.96,2113.18 354.44,2132.56 357.92,2152.13 361.4,2171.78 364.88,2191.39 368.36,2210.84 371.84,2230.04 375.32,2248.89 378.8,2267.29 382.28,2285.19 385.76,2302.5 389.24,2319.17 392.72,2335.16 396.2,2350.42 399.68,2364.93 403.16,2378.67 406.64,2391.63 410.12,2403.79 413.6,2415.17 417.08,2425.78 420.56,2435.62 424.04,2444.73 427.52,2453.11 431,2460.81 434.48,2467.86 437.96,2474.27 441.44,2480.1 444.92,2485.37 448.4,2490.12 451.88,2494.39 455.36,2498.21 458.84,2501.62 462.32,2504.65 465.8,2507.34 469.28,2509.71 472.76,2511.8 476.24,2513.63 479.72,2515.23 483.2,2516.63 486.68,2517.84 490.16,2518.89 493.64,2519.79 497.12,2520.57 500.6,2521.24 504.08,2521.8 507.56,2522.29 511.04,2522.7 514.52,2523.05 518,2523.34 521.48,2523.59 524.96,2523.79 528.44,2523.97 531.92,2524.11 535.4,2524.23 538.88,2524.33 542.36,2524.41 545.84,2524.48 549.32,2524.53 552.8,2524.58 556.28,2524.61 559.76,2524.64 563.24,2524.67 566.72,2524.68 570.2,2524.7"/>
<path fill="#000" shape-rendering="crispEdges" d="M120 1830H123V2557H120ZM121 2556H597V2559H121Z"/>
<path fill="#333" shape-rendering="crispEdges" d="M165 2557h4v8h-4zM262 2557h4v8h-4zM360 2557h4v8h-4zM457 2557h4v8h-4zM553 2557h4v8h-4zM113 2522H121v4H113zM113 2277H121v4H113zM113 2032H121v4H113z"/>
<clipPath id="c8"><rect x="61.5" y="2557.5" width="549.5" height="60"/></clipPath><g clip-path="url(#c8)">
<text class="k" text-anchor="middle" transform="translate(167.3 2588.5) scale(1.0 1.08)">1.5</text>
<text class="k" text-anchor="middle" transform="translate(264.3 2588.5) scale(1.0 1.08)">2.0</text>
<text class="k" text-anchor="middle" transform="translate(361.7 2588.5) scale(1.0 1.08)">2.5</text>
<text class="k" text-anchor="middle" transform="translate(458.7 2588.5) scale(1.0 1.08)">3.0</text>
<text class="k" text-anchor="middle" transform="translate(555 2588.5) scale(1.0 1.08)">3.5</text>
</g>
<text class="k" text-anchor="end" transform="translate(107.2 2533.46) scale(1.0 1.08)">0.0</text>
<text class="k" text-anchor="end" transform="translate(107.2 2288.41) scale(1.0 1.08)">0.5</text>
<text class="k" text-anchor="end" transform="translate(107.2 2043.36) scale(1.0 1.08)">1.0</text>
<text class="g" text-anchor="middle" transform="translate(359.4 2615.5) scale(1.1 1.0)">α</text>
<text class="a" text-anchor="middle" transform="translate(59.9 2194.95) rotate(-90)">density</text>
<text class="n" transform="translate(411.6 1876.6) scale(1.0 1.07)">Estimates</text>
<text class="n" transform="translate(417.3 1922.3) scale(1.0 1.07)">Average=2.1652</text>
<text class="m" transform="translate(417.4 1945.6) scale(1.0 1.07)">MSE = 0.1356</text>
<text class="n" transform="translate(417 1968.6) scale(1.0 1.07)">CP=0.9300</text>
<text class="n" transform="translate(470.5 2005.2)">.</text>
</g>
<g>
<text class="t" transform="translate(711.1 1807.5) scale(1.0 0.977)">30% censoring and n=100</text>
<path fill="#858585" shape-rendering="crispEdges" d="M734 2497H745V2522H734ZM749 2490H759V2522H749ZM763 2454H774V2522H763ZM778 2490H788V2522H778ZM792 2367H802V2522H792ZM806 2294H817V2522H806ZM821 2171H831V2522H821ZM835 2062H846V2522H835ZM850 1895H860V2522H850ZM864 1996H874V2522H864ZM878 1887H889V2522H878ZM893 1866H903V2522H893ZM907 1887H917V2522H907ZM921 2004H932V2522H921ZM936 2083H946V2522H936ZM950 2098H961V2522H950ZM965 2229H975V2522H965ZM979 2192H989V2522H979ZM993 2381H1004V2522H993ZM1008 2345H1018V2522H1008ZM1022 2396H1033V2522H1022ZM1037 2454H1047V2522H1037ZM1051 2447H1061V2522H1051ZM1065 2497H1076V2522H1065ZM1080 2512H1090V2522H1080ZM1094 2483H1105V2522H1094ZM1109 2505H1119V2522H1109ZM1123 2519H1133V2522H1123ZM1137 2512H1148V2522H1137ZM1152 2519H1162V2522H1152Z"/>
<polyline fill="none" stroke="#000" stroke-width="7.3" stroke-linejoin="round" points="742.7,2490.7 746.18,2486.27 749.66,2481.39 753.13,2476.01 756.61,2470.11 760.09,2463.65 763.57,2456.61 767.04,2448.97 770.52,2440.68 774,2431.74 777.48,2422.11 780.96,2411.79 784.43,2400.75 787.91,2389 791.39,2376.52 794.87,2363.32 798.34,2349.41 801.82,2334.8 805.3,2319.52 808.78,2303.59 812.26,2287.05 815.73,2269.94 819.21,2252.33 822.69,2234.26 826.17,2215.81 829.65,2197.05 833.12,2178.07 836.6,2158.95 840.08,2139.79 843.56,2120.7 847.03,2101.77 850.51,2083.13 853.99,2064.87 857.47,2047.12 860.95,2029.99 864.42,2013.6 867.9,1998.05 871.38,1983.46 874.86,1969.92 878.33,1957.55 881.81,1946.42 885.29,1936.63 888.77,1928.24 892.25,1921.33 895.72,1915.94 899.2,1912.12 902.68,1909.9 906.16,1909.29 909.63,1910.31 913.11,1912.94 916.59,1917.16 920.07,1922.93 923.55,1930.22 927.02,1938.97 930.5,1949.11 933.98,1960.56 937.46,1973.24 940.93,1987.05 944.41,2001.9 947.89,2017.67 951.37,2034.26 954.85,2051.56 958.32,2069.45 961.8,2087.81 965.28,2106.54 968.76,2125.52 972.24,2144.64 975.71,2163.79 979.19,2182.88 982.67,2201.82 986.15,2220.51 989.62,2238.87 993.1,2256.83 996.58,2274.32 1000.06,2291.29 1003.54,2307.68 1007.01,2323.45 1010.49,2338.56 1013.97,2353 1017.45,2366.73 1020.92,2379.75 1024.4,2392.04 1027.88,2403.61 1031.36,2414.47 1034.84,2424.61 1038.31,2434.06 1041.79,2442.84 1045.27,2450.96 1048.75,2458.45 1052.22,2465.34 1055.7,2471.65 1059.18,2477.42 1062.66,2482.67 1066.14,2487.44 1069.61,2491.75 1073.09,2495.64 1076.57,2499.14 1080.05,2502.28 1083.52,2505.09 1087,2507.59 1090.48,2509.81 1093.96,2511.78 1097.44,2513.52 1100.91,2515.05 1104.39,2516.4 1107.87,2517.58 1111.35,2518.6 1114.82,2519.5 1118.3,2520.28 1121.78,2520.95 1125.26,2521.53 1128.74,2522.03 1132.21,2522.45 1135.69,2522.82 1139.17,2523.13 1142.65,2523.4 1146.13,2523.62 1149.6,2523.81 1153.08,2523.97 1156.56,2524.11 1160.04,2524.22"/>
<path fill="#000" shape-rendering="crispEdges" d="M709 1830H712V2557H709ZM710 2556H1186V2559H710Z"/>
<path fill="#333" shape-rendering="crispEdges" d="M744 2557h4v8h-4zM885 2557h4v8h-4zM1027 2557h4v8h-4zM1168 2557h4v8h-4zM702 2522H710v4H702zM702 2338H710v4H702zM702 2153H710v4H702zM702 1968H710v4H702z"/>
<clipPath id="c9"><rect x="650.8" y="2557.5" width="549.2" height="60"/></clipPath><g clip-path="url(#c9)">
<text class="k" text-anchor="middle" transform="translate(745.7 2588.5) scale(1.0 1.08)">1.5</text>
<text class="k" text-anchor="middle" transform="translate(887.3 2588.5) scale(1.0 1.08)">2.0</text>
<text class="k" text-anchor="middle" transform="translate(1029 2588.5) scale(1.0 1.08)">2.5</text>
<text class="k" text-anchor="middle" transform="translate(1170 2588.5) scale(1.0 1.08)">3.0</text>
</g>
<text class="k" text-anchor="end" transform="translate(696.5 2533.46) scale(1.0 1.08)">0.0</text>
<text class="k" text-anchor="end" transform="translate(696.5 2348.71) scale(1.0 1.08)">0.5</text>
<text class="k" text-anchor="end" transform="translate(696.5 2163.96) scale(1.0 1.08)">1.0</text>
<text class="k" text-anchor="end" transform="translate(696.5 1979.21) scale(1.0 1.08)">1.5</text>
<text class="g" text-anchor="middle" transform="translate(948.55 2615.5) scale(1.1 1.0)">α</text>
<text class="a" text-anchor="middle" transform="translate(648.9 2194.95) rotate(-90)">density</text>
<text class="n" transform="translate(1000.6 1876.6) scale(1.0 1.07)">Estimates</text>
<text class="n" transform="translate(1006.3 1922.3) scale(1.0 1.07)">Average=2.0651</text>
<text class="m" transform="translate(1006.4 1945.6) scale(1.0 1.07)">MSE = 0.0616</text>
<text class="n" transform="translate(1006 1968.6) scale(1.0 1.07)">CP=0.9390</text>
<text class="n" transform="translate(1059.5 2005.2)">.</text>
</g>
<g>
<text class="t" transform="translate(1279.1 1807.5) scale(1.0 0.977)">30% censoring and n=200</text>
<path fill="#858585" shape-rendering="crispEdges" d="M1303 2520H1314V2522H1303ZM1318 2492H1329V2522H1318ZM1333 2436H1344V2522H1333ZM1348 2485H1360V2522H1348ZM1364 2415H1375V2522H1364ZM1379 2248H1390V2522H1379ZM1394 2227H1405V2522H1394ZM1409 2227H1420V2522H1409ZM1424 2130H1435V2522H1424ZM1439 1998H1450V2522H1439ZM1454 1866H1465V2522H1454ZM1469 1935H1480V2522H1469ZM1484 1942H1495V2522H1484ZM1499 1949H1510V2522H1499ZM1514 1970H1525V2522H1514ZM1529 2040H1540V2522H1529ZM1544 2151H1555V2522H1544ZM1559 2234H1570V2522H1559ZM1574 2276H1585V2522H1574ZM1589 2373H1600V2522H1589ZM1604 2394H1615V2522H1604ZM1619 2457H1630V2522H1619ZM1634 2485H1645V2522H1634ZM1649 2513H1660V2522H1649ZM1664 2506H1675V2522H1664ZM1679 2478H1690V2522H1679ZM1694 2520H1705V2522H1694ZM1739 2520H1750V2522H1739Z"/>
<polyline fill="none" stroke="#000" stroke-width="7.3" stroke-linejoin="round" points="1310.3,2503.57 1313.93,2500.46 1317.57,2496.97 1321.2,2493.07 1324.84,2488.73 1328.47,2483.91 1332.1,2478.58 1335.74,2472.7 1339.37,2466.23 1343,2459.15 1346.64,2451.43 1350.27,2443.02 1353.91,2433.92 1357.54,2424.08 1361.17,2413.5 1364.81,2402.15 1368.44,2390.03 1372.07,2377.13 1375.71,2363.46 1379.34,2349.02 1382.98,2333.83 1386.61,2317.92 1390.24,2301.31 1393.88,2284.06 1397.51,2266.22 1401.14,2247.84 1404.78,2228.99 1408.41,2209.76 1412.05,2190.24 1415.68,2170.51 1419.31,2150.68 1422.95,2130.86 1426.58,2111.18 1430.21,2091.74 1433.85,2072.67 1437.48,2054.11 1441.12,2036.17 1444.75,2018.99 1448.38,2002.7 1452.02,1987.41 1455.65,1973.24 1459.29,1960.31 1462.92,1948.71 1466.55,1938.54 1470.19,1929.89 1473.82,1922.83 1477.45,1917.41 1481.09,1913.68 1484.72,1911.68 1488.36,1911.41 1491.99,1912.89 1495.62,1916.1 1499.26,1921.01 1502.89,1927.58 1506.52,1935.75 1510.16,1945.47 1513.79,1956.64 1517.43,1969.18 1521.06,1982.98 1524.69,1997.94 1528.33,2013.94 1531.96,2030.87 1535.59,2048.58 1539.23,2066.97 1542.86,2085.9 1546.5,2105.24 1550.13,2124.86 1553.76,2144.65 1557.4,2164.49 1561.03,2184.26 1564.67,2203.86 1568.3,2223.19 1571.93,2242.16 1575.57,2260.68 1579.2,2278.7 1582.83,2296.14 1586.47,2312.94 1590.1,2329.07 1593.74,2344.48 1597.37,2359.15 1601,2373.06 1604.64,2386.19 1608.27,2398.55 1611.9,2410.13 1615.54,2420.94 1619.17,2431.01 1622.81,2440.33 1626.44,2448.95 1630.07,2456.88 1633.71,2464.15 1637.34,2470.79 1640.97,2476.85 1644.61,2482.34 1648.24,2487.32 1651.88,2491.8 1655.51,2495.83 1659.14,2499.44 1662.78,2502.66 1666.41,2505.52 1670.04,2508.07 1673.68,2510.31 1677.31,2512.29 1680.95,2514.03 1684.58,2515.56 1688.21,2516.88 1691.85,2518.04 1695.48,2519.04 1699.12,2519.91 1702.75,2520.66 1706.38,2521.3 1710.02,2521.85 1713.65,2522.32 1717.28,2522.72 1720.92,2523.06 1724.55,2523.34 1728.19,2523.59 1731.82,2523.79 1735.45,2523.96 1739.09,2524.1 1742.72,2524.22 1746.35,2524.32"/>
<path fill="#000" shape-rendering="crispEdges" d="M1277 1830H1281V2557H1277ZM1278 2556H1775V2559H1278Z"/>
<path fill="#333" shape-rendering="crispEdges" d="M1387 2557h4v8h-4zM1514 2557h4v8h-4zM1640 2557h4v8h-4zM1766 2557h4v8h-4zM1271 2522H1278v4H1271zM1271 2274H1278v4H1271zM1271 2025H1278v4H1271z"/>
<clipPath id="c10"><rect x="1218.8" y="2557.5" width="570.2" height="60"/></clipPath><g clip-path="url(#c10)">
<text class="k" text-anchor="middle" transform="translate(1389 2588.5) scale(1.0 1.08)">1.8</text>
<text class="k" text-anchor="middle" transform="translate(1515.7 2588.5) scale(1.0 1.08)">2.1</text>
<text class="k" text-anchor="middle" transform="translate(1641.7 2588.5) scale(1.0 1.08)">2.4</text>
<text class="k" text-anchor="middle" transform="translate(1768.3 2588.5) scale(1.0 1.08)">2.7</text>
</g>
<text class="k" text-anchor="end" transform="translate(1265.8 2533.46) scale(1.0 1.08)">0</text>
<text class="k" text-anchor="end" transform="translate(1265.8 2284.86) scale(1.0 1.08)">1</text>
<text class="k" text-anchor="end" transform="translate(1265.8 2036.26) scale(1.0 1.08)">2</text>
<text class="g" text-anchor="middle" transform="translate(1527.2 2615.5) scale(1.1 1.0)">α</text>
<text class="a" text-anchor="middle" transform="translate(1237.9 2194.95) rotate(-90)">density</text>
<text class="n" transform="translate(1589.6 1876.6) scale(1.0 1.07)">Estimates</text>
<text class="n" transform="translate(1595.3 1922.3) scale(1.0 1.07)">Average=2.0326</text>
<text class="m" transform="translate(1595.4 1945.6) scale(1.0 1.07)">MSE = 0.0272</text>
<text class="n" transform="translate(1595 1968.6) scale(1.0 1.07)">CP=0.9450</text>
<text class="n" transform="translate(1648.5 2005.2)">.</text>
</g>
<g>
<text class="t" transform="translate(1868.1 1807.5) scale(1.0 0.977)">30% censoring and n=500</text>
<path fill="#858585" shape-rendering="crispEdges" d="M1892 2520H1903V2522H1892ZM1907 2520H1919V2522H1907ZM1923 2501H1934V2522H1923ZM1938 2520H1949V2522H1938ZM1953 2489H1964V2522H1953ZM1968 2464H1979V2522H1968ZM1983 2426H1994V2522H1983ZM1998 2401H2009V2522H1998ZM2013 2212H2024V2522H2013ZM2028 2174H2039V2522H2028ZM2043 2187H2054V2522H2043ZM2058 2067H2069V2522H2058ZM2073 1992H2084V2522H2073ZM2088 1866H2099V2522H2088ZM2103 1985H2114V2522H2103ZM2118 1979H2129V2522H2118ZM2133 2124H2145V2522H2133ZM2149 2010H2160V2522H2149ZM2164 2117H2175V2522H2164ZM2179 2294H2190V2522H2179ZM2194 2281H2205V2522H2194ZM2209 2445H2220V2522H2209ZM2224 2413H2235V2522H2224ZM2239 2482H2250V2522H2239ZM2254 2470H2265V2522H2254ZM2269 2495H2280V2522H2269ZM2284 2508H2295V2522H2284ZM2299 2520H2310V2522H2299ZM2329 2514H2340V2522H2329Z"/>
<polyline fill="none" stroke="#000" stroke-width="7.3" stroke-linejoin="round" points="1904.4,2519.73 1908.04,2518.81 1911.68,2517.73 1915.32,2516.48 1918.96,2515.04 1922.61,2513.39 1926.25,2511.5 1929.89,2509.33 1933.53,2506.88 1937.17,2504.09 1940.81,2500.94 1944.45,2497.4 1948.09,2493.43 1951.73,2488.99 1955.38,2484.05 1959.02,2478.57 1962.66,2472.51 1966.3,2465.84 1969.94,2458.53 1973.58,2450.53 1977.22,2441.83 1980.86,2432.39 1984.5,2422.19 1988.15,2411.22 1991.79,2399.46 1995.43,2386.92 1999.07,2373.58 2002.71,2359.46 2006.35,2344.58 2009.99,2328.97 2013.63,2312.65 2017.27,2295.69 2020.92,2278.13 2024.56,2260.05 2028.2,2241.51 2031.84,2222.61 2035.48,2203.44 2039.12,2184.11 2042.76,2164.72 2046.4,2145.41 2050.04,2126.29 2053.69,2107.5 2057.33,2089.16 2060.97,2071.42 2064.61,2054.42 2068.25,2038.27 2071.89,2023.13 2075.53,2009.1 2079.17,1996.32 2082.81,1984.89 2086.46,1974.91 2090.1,1966.47 2093.74,1959.64 2097.38,1954.5 2101.02,1951.08 2104.66,1949.42 2108.3,1949.53 2111.94,1951.41 2115.58,1955.05 2119.23,1960.41 2122.87,1967.44 2126.51,1976.07 2130.15,1986.24 2133.79,1997.85 2137.43,2010.8 2141.07,2024.97 2144.71,2040.25 2148.35,2056.5 2152,2073.61 2155.64,2091.43 2159.28,2109.83 2162.92,2128.67 2166.56,2147.82 2170.2,2167.15 2173.84,2186.54 2177.48,2205.85 2181.12,2225 2184.77,2243.86 2188.41,2262.34 2192.05,2280.36 2195.69,2297.85 2199.33,2314.73 2202.97,2330.96 2206.61,2346.49 2210.25,2361.27 2213.89,2375.29 2217.54,2388.53 2221.18,2400.98 2224.82,2412.64 2228.46,2423.51 2232.1,2433.61 2235.74,2442.96 2239.38,2451.57 2243.02,2459.48 2246.66,2466.71 2250.31,2473.3 2253.95,2479.29 2257.59,2484.7 2261.23,2489.57 2264.87,2493.95 2268.51,2497.87 2272.15,2501.36 2275.79,2504.46 2279.43,2507.2 2283.08,2509.62 2286.72,2511.75 2290.36,2513.61 2294,2515.23 2297.64,2516.65 2301.28,2517.87 2304.92,2518.93 2308.56,2519.84 2312.2,2520.62 2315.85,2521.29 2319.49,2521.86 2323.13,2522.34 2326.77,2522.75 2330.41,2523.1 2334.05,2523.39 2337.69,2523.63 2341.33,2523.83"/>
<path fill="#000" shape-rendering="crispEdges" d="M1866 1830H1870V2557H1866ZM1867 2556H2365V2559H1867Z"/>
<path fill="#333" shape-rendering="crispEdges" d="M1971 2557h4v8h-4zM2099 2557h4v8h-4zM2227 2557h4v8h-4zM2357 2557h4v8h-4zM1860 2522H1867v4H1860zM1860 2375H1867v4H1860zM1860 2228H1867v4H1860zM1860 2081H1867v4H1860zM1860 1934H1867v4H1860z"/>
<clipPath id="c11"><rect x="1807.8" y="2557.5" width="571.2" height="60"/></clipPath><g clip-path="url(#c11)">
<text class="k" text-anchor="middle" transform="translate(1973 2588.5) scale(1.0 1.08)">1.8</text>
<text class="k" text-anchor="middle" transform="translate(2101 2588.5) scale(1.0 1.08)">2.0</text>
<text class="k" text-anchor="middle" transform="translate(2229.3 2588.5) scale(1.0 1.08)">2.2</text>
<text class="k" text-anchor="middle" transform="translate(2359 2588.5) scale(1.0 1.08)">2.4</text>
</g>
<text class="k" text-anchor="end" transform="translate(1854.8 2533.46) scale(1.0 1.08)">0</text>
<text class="k" text-anchor="end" transform="translate(1854.8 2386.46) scale(1.0 1.08)">1</text>
<text class="k" text-anchor="end" transform="translate(1854.8 2239.46) scale(1.0 1.08)">2</text>
<text class="k" text-anchor="end" transform="translate(1854.8 2092.46) scale(1.0 1.08)">3</text>
<text class="k" text-anchor="end" transform="translate(1854.8 1945.46) scale(1.0 1.08)">4</text>
<text class="g" text-anchor="middle" transform="translate(2116.7 2615.5) scale(1.1 1.0)">α</text>
<text class="a" text-anchor="middle" transform="translate(1826.9 2194.95) rotate(-90)">density</text>
<text class="n" transform="translate(2178.6 1876.6) scale(1.0 1.07)">Estimates</text>
<text class="n" transform="translate(2184.3 1922.3) scale(1.0 1.07)">Average=2.0077</text>
<text class="m" transform="translate(2184.4 1945.6) scale(1.0 1.07)">MSE = 0.0104</text>
<text class="n" transform="translate(2184 1968.6) scale(1.0 1.07)">CP=0.9490</text>
<text class="n" transform="translate(2237.5 2005.2)">.</text>
</g>
</svg></body></html>
